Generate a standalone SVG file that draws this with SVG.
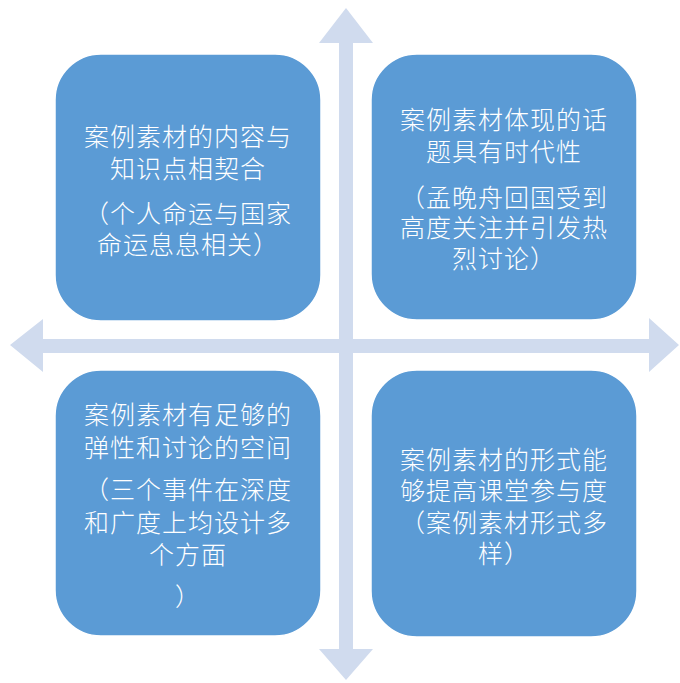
<svg xmlns="http://www.w3.org/2000/svg" width="680" height="683" viewBox="0 0 680 683">
<style>
.arrow{fill:#D0DBEE}
.box{fill:#5B9BD5;stroke:#ffffff;stroke-width:1.5}
.t{fill:#ffffff;font-family:"Noto Sans CJK SC","Noto Sans CJK JP",sans-serif;font-size:25px;letter-spacing:1px;font-weight:300;text-anchor:middle;dominant-baseline:central}
</style>
<rect width="680" height="683" fill="#ffffff"/>
<g id="connectors">
<polygon class="arrow" points="346,8 373,43 353,43 353,649 373,649 346,680 319,649 339,649 339,43 319,43"/>
<polygon class="arrow" points="10,345 43,319 43,339 649,339 649,318 679,345 649,372 649,353 43,353 43,372"/>
</g>
<g id="node-tl">
<rect class="box" x="55" y="54" width="266" height="267" rx="46"/>
<text class="t" x="188" y="135">案例素材的内容与</text>
<text class="t" x="188" y="167">知识点相契合</text>
<text class="t" x="188" y="212">（个人命运与国家</text>
<text class="t" x="188" y="243">命运息息相关）</text>
</g>
<g id="node-tr">
<rect class="box" x="371" y="54" width="266" height="266" rx="46"/>
<text class="t" x="504" y="118">案例素材体现的话</text>
<text class="t" x="504" y="150">题具有时代性</text>
<text class="t" x="504" y="196">（孟晚舟回国受到</text>
<text class="t" x="504" y="226">高度关注并引发热</text>
<text class="t" x="504" y="257">烈讨论）</text>
</g>
<g id="node-bl">
<rect class="box" x="55" y="370" width="266" height="266" rx="46"/>
<text class="t" x="188" y="413">案例素材有足够的</text>
<text class="t" x="188" y="446">弹性和讨论的空间</text>
<text class="t" x="188" y="488">（三个事件在深度</text>
<text class="t" x="188" y="521">和广度上均设计多</text>
<text class="t" x="188" y="553">个方面</text>
<text class="t" x="188" y="595">）</text>
</g>
<g id="node-br">
<rect class="box" x="371" y="370" width="266" height="267" rx="46"/>
<text class="t" x="504" y="458">案例素材的形式能</text>
<text class="t" x="504" y="489">够提高课堂参与度</text>
<text class="t" x="504" y="521">（案例素材形式多</text>
<text class="t" x="504" y="552">样）</text>
</g>
</svg>
